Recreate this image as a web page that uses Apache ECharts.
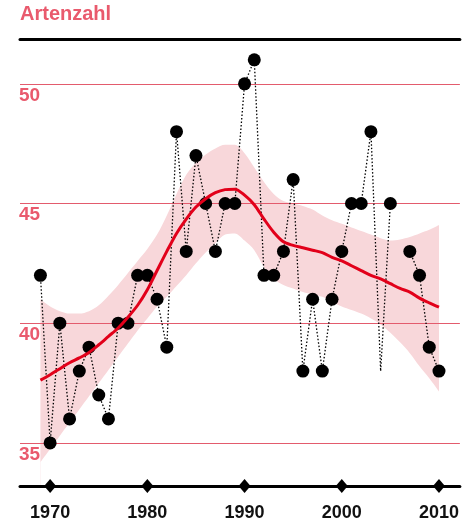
<!DOCTYPE html>
<html>
<head>
<meta charset="utf-8">
<script src="https://cdn.jsdelivr.net/npm/echarts@6/dist/echarts.min.js"></script>
<style>
  html, body { margin: 0; padding: 0; background: #fff; }
  #chart { width: 462px; height: 522px; }
</style>
</head>
<body>
<div id="chart"></div>
<script>
// Jahre und Artenzahl (2006 fehlt, 2004 ohne Punkt)
var years = [1969, 1970, 1971, 1972, 1973, 1974, 1975, 1976, 1977, 1978,
  1979, 1980, 1981, 1982, 1983, 1984, 1985, 1986, 1987, 1988,
  1989, 1990, 1991, 1992, 1993, 1994, 1995, 1996, 1997, 1998,
  1999, 2000, 2001, 2002, 2003, 2004, 2005, 2006, 2007, 2008,
  2009, 2010];
var counts = [42, 35, 40, 36, 38, 39, 37, 36, 40, 40,
  42, 42, 41, 39, 48, 43, 47, 45, 43, 45,
  45, 50, 51, 42, 42, 43, 46, 38, 41, 38,
  41, 43, 45, 45, 48, 38, 45, null, 43, 42,
  39, 38];
var hiddenYears = [2004];

// Glättung mit Vertrauensband
var trend = [37.62, 37.85, 38.1, 38.35, 38.55, 38.78, 39.1, 39.45, 39.8, 40.25,
  40.75, 41.4, 42.2, 43.0, 43.75, 44.35, 44.85, 45.2, 45.45, 45.58,
  45.6, 45.35, 44.95, 44.35, 43.8, 43.4, 43.25, 43.15, 43.05, 42.95,
  42.75, 42.6, 42.4, 42.2, 42.0, 41.85, 41.65, 41.45, 41.3, 41.05,
  40.85, 40.67];
var bandLow = [34.2, 34.75, 35.3, 35.85, 36.4, 36.95, 37.5, 38.05, 38.6, 39.15,
  39.7, 40.2, 40.7, 41.1, 41.55, 42.0, 42.5, 42.95, 43.35, 43.7,
  43.75, 43.45, 43.05, 42.35, 41.85, 41.6, 41.45, 41.3, 41.2, 41.1,
  40.9, 40.7, 40.55, 40.4, 40.2, 39.95, 39.6, 39.2, 38.75, 38.2,
  37.7, 37.15];
var bandHigh = [41.0, 40.7, 40.5, 40.4, 40.4, 40.5, 40.75, 41.15, 41.6, 42.1,
  42.6, 43.1, 43.7, 44.5, 45.4, 46.2, 46.7, 47.05, 47.3, 47.45,
  47.45, 47.1, 46.5, 45.9, 45.4, 45.1, 45.0, 44.9, 44.75, 44.5,
  44.3, 44.15, 44.0, 43.85, 43.7, 43.55, 43.45, 43.5, 43.6, 43.75,
  43.9, 44.1];

var xTicks = [1970, 1980, 1990, 2000, 2010];
var yTicks = [35, 40, 45, 50];

var pink = '#e95a6d';
var gridPink = '#e35b6d';
var yMin = 33.2, yMax = 51.85;

var chart = echarts.init(document.getElementById('chart'));

var pointData = years.map(function (y, i) {
  if (hiddenYears.indexOf(y) >= 0) {
    return { value: [y, counts[i]], symbol: 'none' };
  }
  return [y, counts[i]];
});

function pairs(vals) {
  return years.map(function (y, i) { return [y, vals[i]]; });
}

// horizontale Rasterlinien über die ganze Breite
function renderGridLine(params, api) {
  var cs = params.coordSys;
  var y = Math.round(api.coord([xTicks[0], api.value(0)])[1]) + 0.5;
  return {
    type: 'line',
    shape: { x1: cs.x, y1: y, x2: cs.x + cs.width, y2: y },
    style: { stroke: gridPink, lineWidth: 1 }
  };
}

chart.setOption({
  animation: false,
  title: {
    text: 'Artenzahl',
    left: 20, top: 4, padding: 0,
    textStyle: { color: pink, fontSize: 20, fontWeight: 'bold', fontFamily: 'Liberation Sans' }
  },
  grid: { left: 20, right: 0, top: 39.5, bottom: 35.5 },
  xAxis: [
    {
      type: 'value', min: 1966.9, max: 2012.15, z: 10,
      axisLine: { show: true, onZero: false, lineStyle: { color: '#000', width: 3 } },
      axisTick: { show: false },
      splitLine: { show: false },
      axisLabel: {
        customValues: xTicks,
        formatter: function (v) { return String(v); },
        margin: 18,
        color: '#111', fontSize: 18, fontWeight: 'bold', fontFamily: 'Liberation Sans'
      }
    },
    {
      type: 'value', position: 'top', min: 1966.9, max: 2012.15, z: 10,
      axisLine: { show: true, onZero: false, lineStyle: { color: '#000', width: 3 } },
      axisTick: { show: false },
      splitLine: { show: false },
      axisLabel: { show: false }
    }
  ],
  yAxis: {
    type: 'value', min: yMin, max: yMax,
    axisLine: { show: false },
    axisTick: { show: false },
    splitLine: { show: false },
    axisLabel: {
      customValues: yTicks,
      inside: true, margin: -1,
      align: 'left', verticalAlign: 'top',
      padding: [2, 0, 0, 0],
      color: pink, fontSize: 19, fontWeight: 'bold', fontFamily: 'Liberation Sans'
    }
  },
  series: [
    {
      // obere Bandgrenze, rosa bis nach unten gefüllt
      type: 'line', name: 'high', smooth: 0.3,
      data: pairs(bandHigh),
      symbol: 'none', lineStyle: { width: 0, opacity: 0 },
      areaStyle: { color: '#f8d7da', opacity: 1, origin: 'start' },
      z: 1, silent: true
    },
    {
      // untere Bandgrenze, weiß abgedeckt
      type: 'line', name: 'low', smooth: 0.3,
      data: pairs(bandLow),
      symbol: 'none', lineStyle: { width: 0, opacity: 0 },
      areaStyle: { color: '#ffffff', opacity: 1, origin: 'start' },
      z: 1.2, silent: true
    },
    {
      type: 'custom', name: 'grid', z: 2, silent: true,
      data: yTicks.map(function (v) { return [v]; }),
      dimensions: ['y'],
      encode: { y: 0 },
      renderItem: renderGridLine,
      clip: false
    },
    {
      type: 'line', name: 'Artenzahl',
      data: pointData,
      connectNulls: false,
      symbol: 'circle', symbolSize: 13,
      itemStyle: { color: '#000' },
      lineStyle: { color: '#000', width: 1.3, type: [1.5, 2] },
      z: 3
    },
    {
      type: 'line', name: 'Trend', smooth: 0.3,
      data: pairs(trend),
      symbol: 'none',
      lineStyle: { color: '#e2001a', width: 3 },
      z: 4
    },
    {
      type: 'scatter', name: 'ticks',
      data: xTicks.map(function (y) { return [y, yMin]; }),
      symbol: 'diamond', symbolSize: [12, 14],
      itemStyle: { color: '#000', opacity: 1 },
      clip: false, silent: true, z: 11
    }
  ]
});
</script>
</body>
</html>
